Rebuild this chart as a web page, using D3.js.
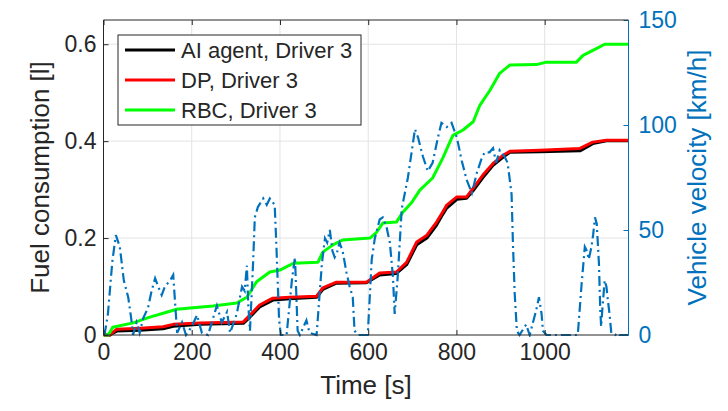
<!DOCTYPE html>
<html><head><meta charset="utf-8">
<script src="https://cdn.jsdelivr.net/npm/d3@7"></script>
<style>body{margin:0;background:#fff}svg{display:block}text{font-family:"Liberation Sans",Arial,sans-serif}</style>
</head><body>
<svg id="chart" width="728" height="411"></svg>
<script>
const timeTicks = [0, 200, 400, 600, 800, 1000];
const fuelTicks = [0, 0.2, 0.4, 0.6];
const velTicks = [0, 50, 100, 150];
const seriesNames = ["AI agent, Driver 3", "DP, Driver 3", "RBC, Driver 3"];
const seriesColors = ["#000000", "#ff0000", "#00ff00"];

const aiTime = [0,15,19,30,83,135,158,219,317,332,354,384,422,483,497,528,596,626,664,687,710,733,755,769,778,801,823,838,860,883,906,921,989,1080,1109,1140,1190];
const aiFuel = [0,0,0.003,0.008,0.010,0.013,0.018,0.022,0.024,0.037,0.058,0.072,0.075,0.078,0.094,0.107,0.108,0.124,0.127,0.145,0.186,0.200,0.227,0.249,0.262,0.280,0.282,0.298,0.325,0.350,0.367,0.377,0.378,0.380,0.395,0.401,0.401];

const dpTime = [0,15,19,30,83,135,158,219,317,332,354,377,384,422,483,497,528,596,626,664,687,710,733,755,769,778,801,823,838,860,883,906,921,989,1080,1109,1140,1190];
const dpFuel = [0,0,0.004,0.012,0.014,0.017,0.022,0.025,0.027,0.041,0.062,0.073,0.076,0.078,0.080,0.097,0.109,0.109,0.128,0.130,0.150,0.192,0.206,0.233,0.254,0.268,0.285,0.285,0.303,0.330,0.354,0.371,0.379,0.381,0.385,0.398,0.402,0.402];

const rbcTime = [0,10,15,21,67,105,143,166,203,248,302,325,347,377,400,422,430,486,497,520,542,604,619,633,664,679,699,717,746,769,785,792,815,838,853,876,898,921,981,1004,1072,1087,1117,1136,1190];
const rbcFuel = [0,0,0.006,0.016,0.025,0.037,0.047,0.053,0.056,0.060,0.066,0.078,0.110,0.130,0.134,0.144,0.148,0.150,0.171,0.186,0.196,0.200,0.212,0.231,0.233,0.254,0.274,0.299,0.324,0.365,0.398,0.412,0.423,0.440,0.474,0.505,0.540,0.557,0.558,0.563,0.563,0.577,0.591,0.600,0.600];

const velTime = [0,3,10,20,28,37,46,56,64,67,75,82,90,101,109,117,124,132,139,151,158,164,167,178,187,200,212,223,237,257,268,280,287,302,314,320,325,328,332,339,343,350,362,370,377,388,392,398,402,415,427,434,440,445,460,467,483,495,502,507,513,519,524,529,535,542,551,558,565,569,577,599,608,615,626,633,642,649,656,660,667,676,690,706,713,724,735,746,758,766,778,789,801,812,823,835,846,857,864,875,883,890,898,909,916,925,928,932,937,943,958,966,981,987,993,996,1004,1075,1084,1091,1096,1100,1106,1110,1114,1118,1123,1126,1128,1131,1136,1140,1143,1147,1151,1160,1165,1170,1190];
const velValue = [0,1,10,35,47.6,42,26,18,6,0,6,1,8,13,21,27,23,19,23,26,28.6,10,1,6,0,4,9.5,1,0,14,6,11,1,10,23,21,33,15,2,34,56,61,65,62,65,62,42,7,0,0,26,37,2,0,7,1,0,34,46,44,50,40,37,39,44,40,29.5,23,18,2,0,0,36,46,55,56,51,44,28,10,28,60,75,98,94,85,78,82,94,101,99,101,94,83,74,67.6,77,84,87,87,89,82,88,85,82,67,44,20,2,0,5,0,12,18,10,2,0,0,25,42,40,36,42,48,56,53,34,12,4,13,26,23,17,10,1,0,1,0,0];

const L = 103.5, R = 628.5, T = 20, B = 335;
const svg = d3.select("#chart");
const x = d3.scaleLinear().domain([0, 1190]).range([L, R]);
const yL = d3.scaleLinear().domain([0, 0.65]).range([B, T]);
const yR = d3.scaleLinear().domain([0, 150]).range([B, T]);
const axisColor = "#262626", velColor = "#0072BD";

svg.append("defs").append("clipPath").attr("id", "clip")
  .append("rect").attr("x", L).attr("y", T - 2).attr("width", R - L).attr("height", B - T + 4);

// grid
const grid = svg.append("g").attr("stroke", "#e3e3e3").attr("stroke-width", 1);
timeTicks.filter(d => d > 0).forEach(d => grid.append("line").attr("x1", x(d)).attr("x2", x(d)).attr("y1", T).attr("y2", B));
fuelTicks.filter(d => d > 0).forEach(d => grid.append("line").attr("x1", L).attr("x2", R).attr("y1", yL(d)).attr("y2", yL(d)));

// lines
const plot = svg.append("g").attr("clip-path", "url(#clip)");
const fuelSeries = [[aiTime, aiFuel], [dpTime, dpFuel], [rbcTime, rbcFuel]];
fuelSeries.forEach(([tt, ff], i) => {
  const pts = tt.map((t, k) => [t, ff[k]]);
  plot.append("path").datum(pts)
    .attr("fill", "none").attr("stroke", seriesColors[i]).attr("stroke-width", 3)
    .attr("stroke-linejoin", "round")
    .attr("d", d3.line().x(d => x(d[0])).y(d => yL(d[1])));
});
const velPts = velTime.map((t, k) => [t, velValue[k]]);
plot.append("path").datum(velPts)
  .attr("fill", "none").attr("stroke", velColor).attr("stroke-width", 2.2)
  .attr("stroke-dasharray", "10,4,2,4")
  .attr("d", d3.line().x(d => x(d[0])).y(d => yR(d[1])));

// axes
const fs = 23;
const fmt = d => String(d);
function styleAxis(g, color) {
  g.select(".domain").remove();
  g.selectAll("line").attr("stroke", color);
  g.selectAll("text").attr("fill", color).style("font-size", fs + "px")
    .style("font-family", '"Liberation Sans", Arial, sans-serif');
}
const gx = svg.append("g").attr("transform", `translate(0,${B})`)
  .call(d3.axisBottom(x).tickValues(timeTicks).tickFormat(fmt).tickSizeInner(-5).tickSizeOuter(0).tickPadding(9));
styleAxis(gx, axisColor);
const gxt = svg.append("g").attr("transform", `translate(0,${T})`)
  .call(d3.axisTop(x).tickValues(timeTicks).tickSizeInner(-5).tickSizeOuter(0).tickFormat(""));
styleAxis(gxt, axisColor);
const gl = svg.append("g").attr("transform", `translate(${L},0)`)
  .call(d3.axisLeft(yL).tickValues(fuelTicks).tickFormat(fmt).tickSizeInner(-5).tickSizeOuter(0).tickPadding(7));
styleAxis(gl, axisColor);
const gr = svg.append("g").attr("transform", `translate(${R},0)`)
  .call(d3.axisRight(yR).tickValues(velTicks).tickFormat(fmt).tickSizeInner(-5).tickSizeOuter(0).tickPadding(10));
styleAxis(gr, velColor);

// box
svg.append("line").attr("x1", L).attr("x2", R).attr("y1", T).attr("y2", T).attr("stroke", axisColor);
svg.append("line").attr("x1", L).attr("x2", R).attr("y1", B).attr("y2", B).attr("stroke", axisColor);
svg.append("line").attr("x1", L).attr("x2", L).attr("y1", T).attr("y2", B).attr("stroke", axisColor);
svg.append("line").attr("x1", R).attr("x2", R).attr("y1", T).attr("y2", B).attr("stroke", velColor);

// labels
const lfs = "26px";
svg.append("text").attr("x", (L + R) / 2).attr("y", 394).attr("text-anchor", "middle")
  .attr("fill", axisColor).style("font-size", lfs).text("Time [s]");
svg.append("text").attr("transform", `translate(49,${(T + B) / 2}) rotate(-90)`).attr("text-anchor", "middle")
  .attr("fill", axisColor).style("font-size", lfs).text("Fuel consumption [l]");
svg.append("text").attr("transform", `translate(706,${(T + B) / 2}) rotate(-90)`).attr("text-anchor", "middle")
  .attr("fill", velColor).style("font-size", lfs).text("Vehicle velocity [km/h]");

// legend
const lg = svg.append("g");
lg.append("rect").attr("x", 118).attr("y", 35).attr("width", 243).attr("height", 90)
  .attr("fill", "#fff").attr("stroke", axisColor).attr("stroke-width", 1);
seriesNames.forEach((name, i) => {
  const yy = 50 + i * 30;
  lg.append("line").attr("x1", 125).attr("x2", 175).attr("y1", yy).attr("y2", yy)
    .attr("stroke", seriesColors[i]).attr("stroke-width", 3);
  lg.append("text").attr("x", 181).attr("y", yy).attr("dy", "0.35em")
    .attr("fill", axisColor).style("font-size", "22px").text(name);
});
</script>
</body></html>
